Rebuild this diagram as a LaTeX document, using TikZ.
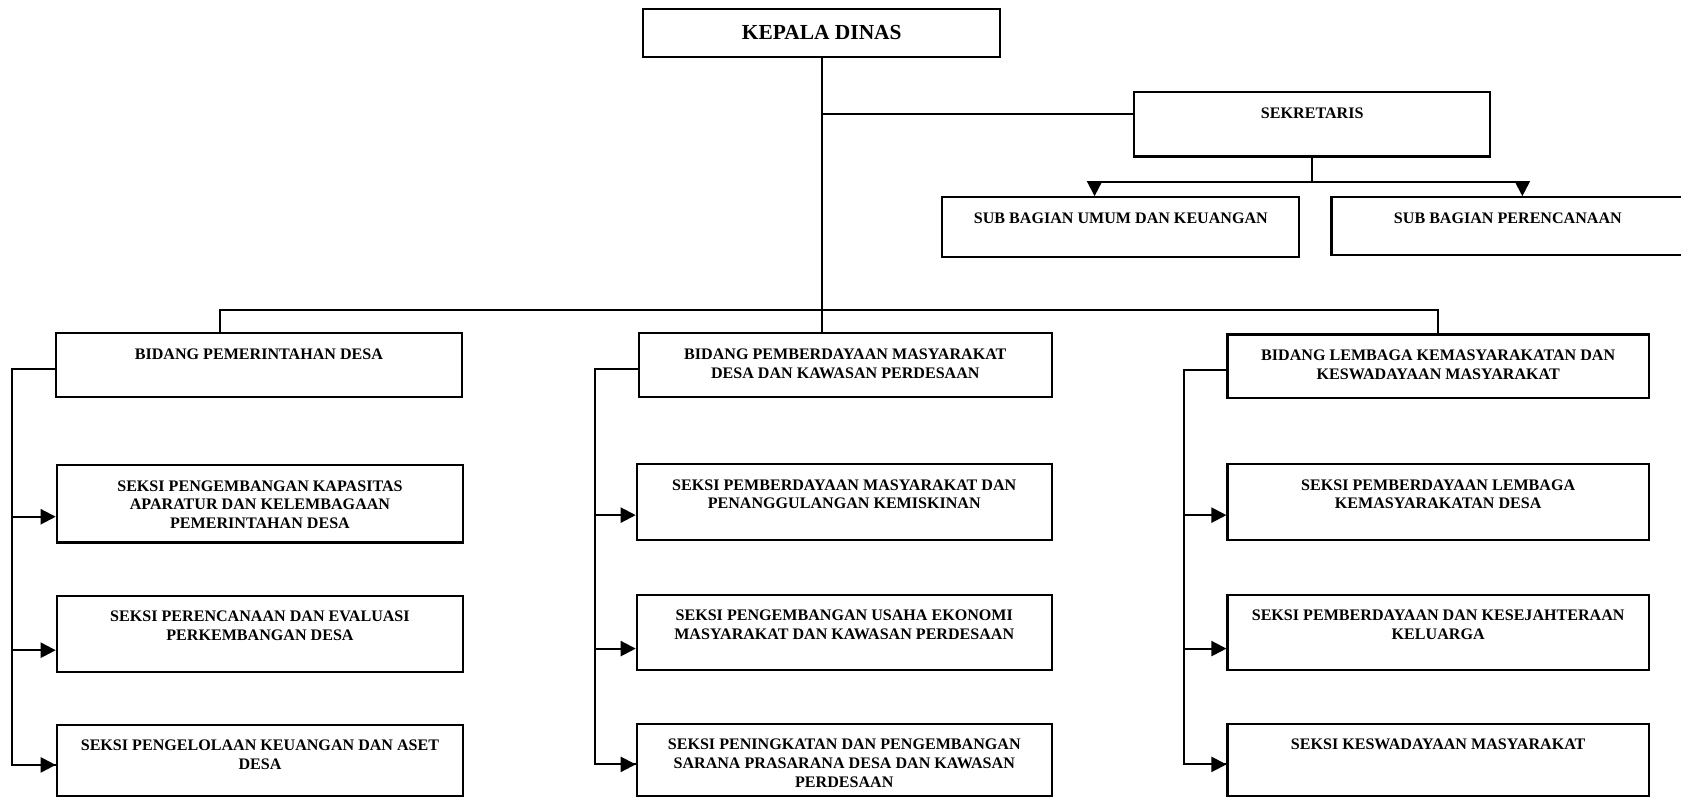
\documentclass[tikz,border=0pt]{standalone}
\usepackage{fontspec}
\setmainfont{Liberation Serif}
\usetikzlibrary{arrows.meta,calc}
\tikzstyle{unitbox}=[draw, line width=2pt, anchor=north west, inner sep=0pt]
\tikzstyle{unittext}=[anchor=north, yshift=-15pt, inner sep=0pt, align=center, font=\fontsize{15pt}{17.5pt}\selectfont\bfseries]
\tikzstyle{wire}=[draw, line width=2pt]
\tikzstyle{edge}=[draw, line width=2pt, -{Triangle[length=14pt,width=14pt]}]

\begin{document}
\begin{tikzpicture}[x=1pt, y=-1pt]

   \useasboundingbox (0,0) rectangle (1568,743);

   \node[unitbox, minimum width=333pt, minimum height=45pt, font=\fontsize{20pt}{24pt}\selectfont\bfseries] (kd) at (599,7) {KEPALA DINAS};

   \foreach \pos/\name/\w/\h/\txt in {
      {(1057,85)/sek/332/60/SEKRETARIS},
      {(878,183)/sbu/333/56/SUB BAGIAN UMUM DAN KEUANGAN},
      {(1241,183)/sbp/329/54/SUB BAGIAN PERENCANAAN},
      {(51,310)/b1/379/59/BIDANG PEMERINTAHAN DESA},
      {(595,310)/b2/385/59/BIDANG PEMBERDAYAAN MASYARAKAT\\DESA DAN KAWASAN PERDESAAN},
      {(1144,311)/b3/393/59/BIDANG LEMBAGA KEMASYARAKATAN DAN\\KESWADAYAAN MASYARAKAT},
      {(52,433)/s1a/379/72/SEKSI PENGEMBANGAN KAPASITAS\\APARATUR DAN KELEMBAGAAN\\PEMERINTAHAN DESA},
      {(52,555)/s1b/379/71/SEKSI PERENCANAAN DAN EVALUASI\\PERKEMBANGAN DESA},
      {(52,675)/s1c/379/67/SEKSI PENGELOLAAN KEUANGAN DAN ASET\\DESA},
      {(593,432)/s2a/387/71/SEKSI PEMBERDAYAAN MASYARAKAT DAN\\PENANGGULANGAN KEMISKINAN},
      {(593,554)/s2b/387/70/SEKSI PENGEMBANGAN USAHA EKONOMI\\MASYARAKAT DAN KAWASAN PERDESAAN},
      {(593,674)/s2c/387/68/SEKSI PENINGKATAN DAN PENGEMBANGAN\\SARANA PRASARANA DESA DAN KAWASAN\\PERDESAAN},
      {(1144,432)/s3a/393/71/SEKSI PEMBERDAYAAN LEMBAGA\\KEMASYARAKATAN DESA},
      {(1144,554)/s3b/393/70/SEKSI PEMBERDAYAAN DAN KESEJAHTERAAN\\KELUARGA},
      {(1144,674)/s3c/393/68/SEKSI KESWADAYAAN MASYARAKAT}}
      \node[unitbox, minimum width=\w pt, minimum height=\h pt, label={[unittext]north:\txt}] (\name) at \pos {};

   % kepala dinas down to the bidang, branch to sekretaris
   \coordinate (sekin) at ([yshift=10pt]sek.west);
   \draw[wire] (kd.south) -- (kd.south |- b2.north);
   \draw[wire] (kd.south |- sekin) -- (sekin);

   \coordinate (bus) at ([yshift=21pt]b1.north);
   \coordinate (b1in) at ([xshift=-36.5pt]b1.north);
   \draw[wire] (b1in) |- (bus -| b3.north) -- (b3.north);

   % sekretaris to sub bagian
   \coordinate (sekbus) at ([yshift=-23pt]sek.south);
   \coordinate (sbuin) at ([xshift=-24.5pt]sbu.north);
   \coordinate (sbpin) at ([xshift=13.5pt]sbp.north);
   \draw[wire] (sek.south) -- (sekbus);
   \draw[wire] (sbuin |- sekbus) -- (sbpin |- sekbus);
   \draw[edge] (sbuin |- sekbus) -- (sbuin);
   \draw[edge] (sbpin |- sekbus) -- (sbpin);

   % bidang to seksi
   \foreach \col in {1,2,3} {
      \coordinate (rail\col) at ([xshift=-40pt,yshift=-4pt]b\col.west);
      \draw[wire] ([yshift=-4pt]b\col.west) -- (rail\col) |- ([yshift=-4pt]s\col c.west);
      \foreach \row/\dy in {a/-12,b/-15,c/-4}
         \draw[edge] (rail\col) |- ([yshift=\dy pt]s\col\row.west);
   }

\end{tikzpicture}
\end{document}
